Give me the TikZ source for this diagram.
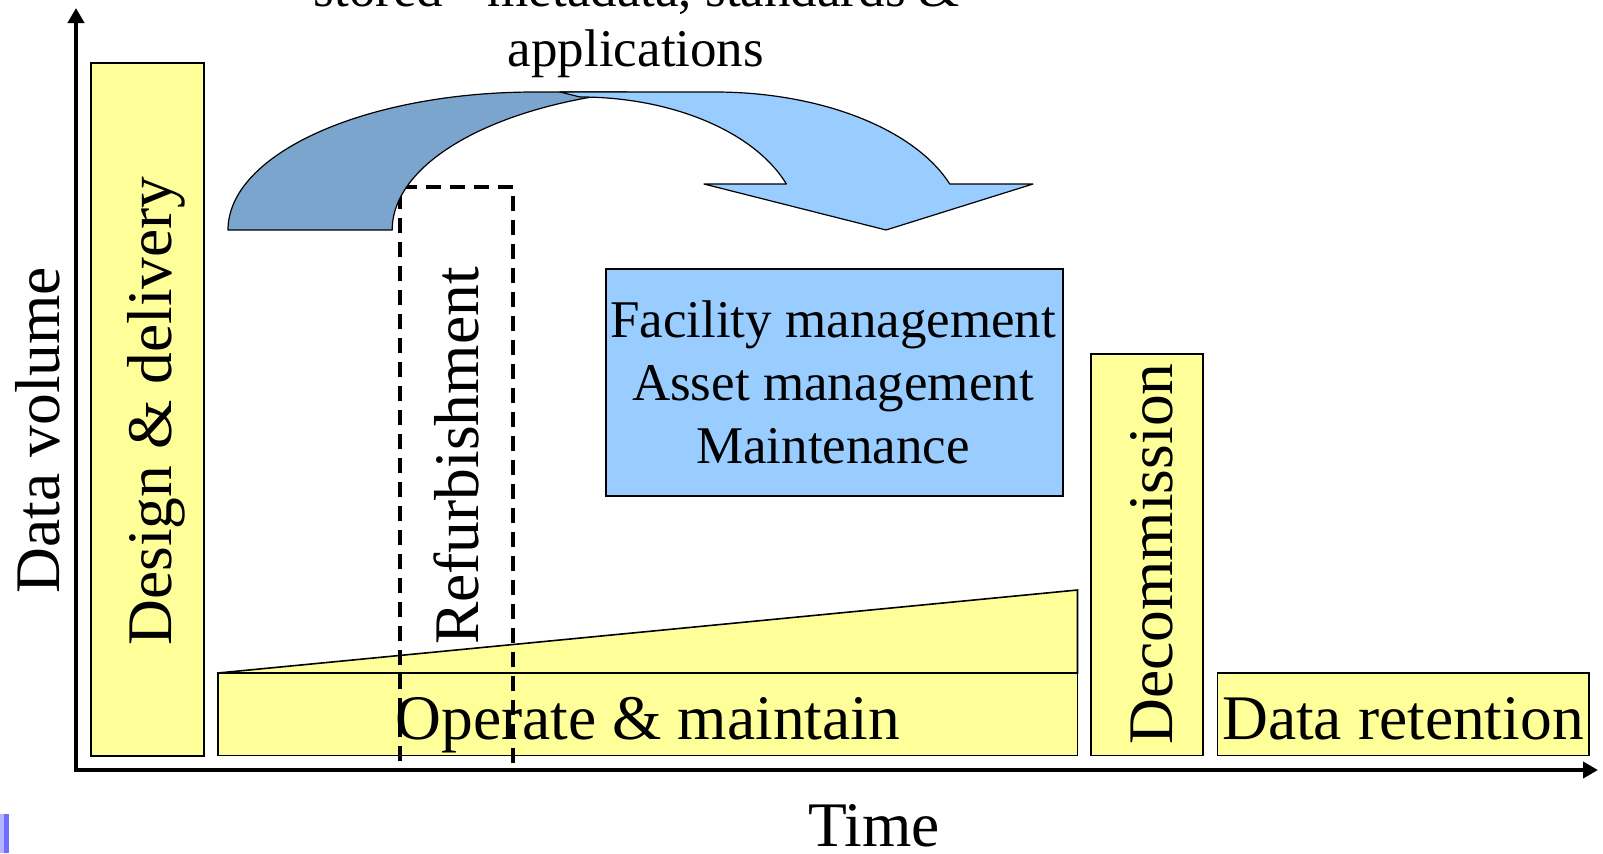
\documentclass[tikz,border=0pt]{standalone}
\usepackage{fontspec}
\setmainfont{Liberation Serif}
\usetikzlibrary{arrows.meta}
\definecolor{boxyellow}{HTML}{FFFF99}
\definecolor{boxblue}{HTML}{99CCFF}
\definecolor{arrowdark}{HTML}{7BA5CC}
\definecolor{arrowlight}{HTML}{99CCFF}
\definecolor{marklight}{HTML}{B4B4FF}
\definecolor{markdark}{HTML}{6E6EFF}
\begin{document}
\begin{tikzpicture}[x=0.5pt,y=0.5pt,
  ybox/.style={draw=black, line width=0.8pt, fill=boxyellow, inner sep=0pt, outer sep=0pt},
  bbox/.style={draw=black, line width=0.8pt, fill=boxblue, inner sep=0pt, outer sep=0pt},
  dbox/.style={draw=black, line width=1.7pt, dash pattern=on 7.5pt off 4.5pt, inner sep=0pt, outer sep=0pt},
  bigtext/.style={font=\fontsize{31.75}{38}\selectfont, inner sep=0pt},
  smalltext/.style={font=\fontsize{26.5}{31.5}\selectfont, inner sep=0pt},
  arrowline/.style={draw=black, line width=0.6pt, line join=round},
  axis/.style={line width=2.4pt, line join=miter, {Triangle[length=7.5pt,width=8pt]}-{Triangle[length=7.5pt,width=8pt]}},
]
\useasboundingbox (0,0) rectangle (1603,-853);

% axes
\coordinate (O) at (76,-770);
\coordinate (ytip) at (76,-8);
\coordinate (xtip) at (1598,-770);
\draw[axis] (ytip) -- (O) -- (xtip);

% boxes
\node[ybox, minimum width=56.5pt, minimum height=346.5pt] (design) at (147.5,-409.5) {};
\node[ybox, minimum width=429.75pt, minimum height=41.25pt] (operate) at (647.75,-714.25) {};
\draw[ybox] (operate.north west) -- ([yshift=41.5pt]operate.north east) -- (operate.north east) -- cycle;
\node[bbox, minimum width=228.5pt, minimum height=113.5pt] (facility) at (834.5,-382.5) {};
\node[ybox, minimum width=56pt, minimum height=200.75pt] (decom) at (1147,-554.75) {};
\node[ybox, minimum width=185.75pt, minimum height=41.25pt] (retention) at (1403.25,-714.25) {};
\node[dbox, minimum width=56.5pt, minimum height=291.5pt] (refurb) at (456.5,-478.5) {};

% curved arrow: back (dark) band
\draw[arrowline, fill=arrowdark] (228,-230) arc[start angle=180, end angle=90, x radius=307, y radius=138]
  -- (627,-92) arc[start angle=103.6, end angle=180, x radius=307, y radius=142] -- cycle;
% front (light) band with head
\draw[arrowline, fill=arrowlight] (560,-92) -- (715,-92)
  arc[start angle=90, end angle=19.47, x radius=249, y radius=138]
  -- (1033,-184) -- (886,-230) -- (704,-184) -- (786.4,-184)
  arc[start angle=20.23, end angle=90, x radius=220, y radius=133] -- cycle;

% texts
\node[bigtext, rotate=90, anchor=base] (tvol) at (59,-430) {Data volume};
\node[bigtext, rotate=90, anchor=base] (tdesign) at (171,-411) {Design \& delivery};
\node[bigtext, rotate=90, anchor=base] (trefurb) at (478,-456) {Refurbishment};
\node[bigtext, rotate=90, anchor=base] (tdecom) at (1172,-554) {Decommission};
\node[bigtext, anchor=base] (toper) at (648,-739) {Operate \& maintain};
\node[bigtext, anchor=base] (tret) at (1403,-739) {Data retention};
\node[bigtext, anchor=base] (ttime) at (874,-846) {Time};
\node[smalltext, anchor=base] (tf1) at (833,-337) {Facility management};
\node[smalltext, anchor=base] (tf2) at (833,-400) {Asset management};
\node[smalltext, anchor=base] (tf3) at (833,-463) {Maintenance};
\node[smalltext, anchor=base] (ttop1) at (637,-6) {stored - metadata, standards \&};
\node[smalltext, anchor=base] (ttop2) at (636,-66) {applications};

% corner mark
\fill[marklight] (0,-814) rectangle (4,-853);
\fill[markdark] (4,-814) rectangle (9,-853);
\end{tikzpicture}
\end{document}
